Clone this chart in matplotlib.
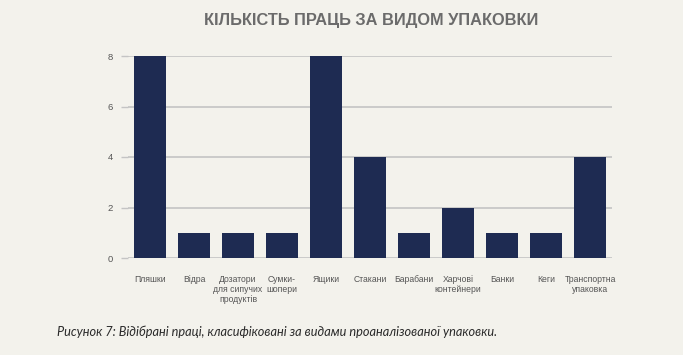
import matplotlib
matplotlib.use("Agg")
import matplotlib.pyplot as plt

categories = ["Пляшки", "Відра", "Дозатори\nдля сипучих\nпродуктів", "Сумки-\nшопери",
              "Ящики", "Стакани", "Барабани", "Харчові\nконтейнери", "Банки", "Кеги",
              "Транспортна\nупаковка"]
values = [8, 1, 1, 1, 8, 4, 1, 2, 1, 1, 4]
yticks = [0, 2, 4, 6, 8]

bg = "#F3F2EC"
bar_color = "#1E2B52"

fig = plt.figure(figsize=(6.83, 3.55), dpi=100, facecolor=bg)
ax = fig.add_axes([128/683, 1-258/355, 484/683, 202/355], facecolor=bg)
x = list(range(len(categories)))
ax.bar(x, values, width=0.72, color=bar_color, zorder=3)
ax.set_xlim(-0.5, len(categories)-0.5)
ax.set_ylim(0, 8)
ax.set_yticks(yticks)
ax.set_yticklabels([str(v) for v in yticks], fontsize=6.8, color="#555555", family="Liberation Sans")
ax.set_xticks(x)
ax.set_xticklabels(categories, fontsize=6.2, color="#555555", family="Liberation Sans", linespacing=1.15, va="top")
ax.tick_params(axis="x", length=0, pad=12)
ax.tick_params(axis="y", length=5, color="#c4c4c4", width=1, pad=6)
ax.grid(axis="y", color="#c4c4c4", linewidth=1.2, zorder=0)
for s in ax.spines.values():
    s.set_visible(False)

fig.text(371/683, 1-20/355, "КІЛЬКІСТЬ ПРАЦЬ ЗА ВИДОМ УПАКОВКИ", ha="center", va="center",
         fontsize=11.8, fontweight="bold", color="#6b6b6b", family="Liberation Sans")
fig.text(57/683, 1-332/355, "Рисунок 7: Відібрані праці, класифіковані за видами проаналізованої упаковки.",
         ha="left", va="center", fontsize=9.2, style="italic", color="#2a2a2a", family="Lato")

fig.savefig("out.png", dpi=100, facecolor=bg)
